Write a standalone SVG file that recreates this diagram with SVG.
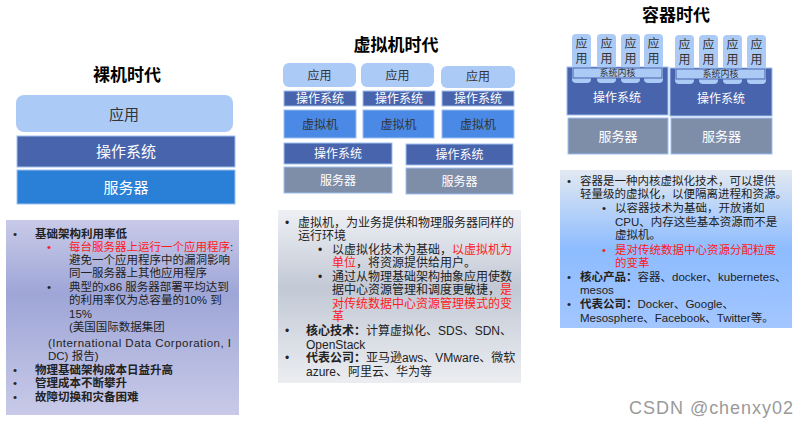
<svg xmlns="http://www.w3.org/2000/svg" width="798" height="428" viewBox="0 0 798 428">
<defs>
<linearGradient id="gL" x1="0" y1="0" x2="0" y2="1">
<stop offset="0" stop-color="#c9cae8"/><stop offset="0.38" stop-color="#9ea6d7"/><stop offset="1" stop-color="#c9cae8"/>
</linearGradient>
<linearGradient id="gM" x1="0" y1="0" x2="0" y2="1">
<stop offset="0" stop-color="#eef0f4"/><stop offset="0.45" stop-color="#c2c9d5"/><stop offset="1" stop-color="#ebedf1"/>
</linearGradient>
<linearGradient id="gR" x1="0" y1="0" x2="0" y2="1">
<stop offset="0" stop-color="#e3e9f1"/><stop offset="0.5" stop-color="#8dbcff"/><stop offset="1" stop-color="#a3c6ff"/>
</linearGradient>
</defs>
<style>
text{font-family:"Liberation Sans","Noto Sans CJK SC",sans-serif;}
.t{font-size:17px;font-weight:bold;fill:#000;text-anchor:middle;}
.app{fill:#abcaf6;}
.os{fill:#4864ac;stroke:#9dc0f0;stroke-width:1;}
.vm{fill:#4a8ae6;stroke:#9dc0f0;stroke-width:1;}
.srv{fill:#7f8ea8;stroke:#9dc0f0;stroke-width:1;}
.bm{fill:#2a7fd6;stroke:#9dc0f0;stroke-width:1;}
.lw{fill:#fff;text-anchor:middle;dominant-baseline:central;}
.ld{fill:#333;text-anchor:middle;dominant-baseline:central;}
.bl{font-size:11.5px;fill:#222;}
.bm2{font-size:12px;fill:#222;}
.r{fill:#ff1a1a;}
.b{font-weight:bold;}
.wm{font-family:"Liberation Sans",Arial,sans-serif;font-size:18px;fill:#9a9a9a;}
</style>

<g id="bare">
<text class="t" x="127" y="81">裸机时代</text>
<g id="bare-app"><rect class="app" x="16" y="95" width="217" height="37" rx="8"/><text class="ld" x="124" y="114" font-size="15">应用</text></g>
<g id="bare-os"><rect class="os" x="17" y="136" width="218" height="31"/><text class="lw" x="126" y="151.5" font-size="15">操作系统</text></g>
<g id="bare-srv"><rect class="bm" x="17" y="170" width="218" height="34"/><text class="lw" x="126" y="187" font-size="15">服务器</text></g>
</g>

<g id="bare-notes">
<rect x="6" y="220" width="233" height="195" fill="url(#gL)"/>
<g class="bl">
<text x="13" y="238">•</text><text x="35" y="238" class="b">基础架构利用率低</text>
<text x="47" y="251" class="r">•</text><text x="69" y="251"><tspan class="r">每台服务器上运行一个应用程序</tspan>:</text>
<text x="69" y="264">避免一个应用程序中的漏洞影响</text>
<text x="69" y="277">同一服务器上其他应用程序</text>
<text x="47" y="291">•</text><text x="69" y="291">典型的x86 服务器部署平均达到</text>
<text x="69" y="304">的利用率仅为总容量的10% 到</text>
<text x="69" y="318">15%</text>
<text x="69" y="331"> (美国国际数据集团</text>
<text x="48" y="347" textLength="183" lengthAdjust="spacing">(International Data Corporation, I</text>
<text x="48" y="360">DC) 报告)</text>
<text x="13" y="374">•</text><text x="35" y="374" class="b">物理基础架构成本日益升高</text>
<text x="13" y="387">•</text><text x="35" y="387" class="b">管理成本不断攀升</text>
<text x="13" y="401">•</text><text x="35" y="401" class="b">故障切换和灾备困难</text>
</g>
</g>

<g id="vm">
<text class="t" x="396" y="51">虚拟机时代</text>
<g id="vm-app1"><rect class="app" x="283" y="63" width="73" height="24" rx="6"/><text class="ld" x="319.5" y="75.5" font-size="12">应用</text></g>
<g id="vm-app2"><rect class="app" x="361" y="63" width="73" height="24" rx="6"/><text class="ld" x="397.5" y="75.5" font-size="12">应用</text></g>
<g id="vm-app3"><rect class="app" x="441" y="66" width="74" height="22" rx="6"/><text class="ld" x="478" y="77" font-size="12">应用</text></g>
<g id="vm-gos1"><rect class="os" x="284" y="91" width="72" height="15"/><text class="lw" x="320" y="99" font-size="12">操作系统</text></g>
<g id="vm-gos2"><rect class="os" x="363" y="91" width="72" height="15"/><text class="lw" x="399" y="99" font-size="12">操作系统</text></g>
<g id="vm-gos3"><rect class="os" x="442" y="91" width="72" height="15"/><text class="lw" x="478" y="99" font-size="12">操作系统</text></g>
<g id="vm-vm1"><rect class="vm" x="284" y="110" width="72" height="28"/><text class="ld" x="320" y="124.5" font-size="12">虚拟机</text></g>
<g id="vm-vm2"><rect class="vm" x="363" y="110" width="71" height="28"/><text class="ld" x="398.5" y="124.5" font-size="12">虚拟机</text></g>
<g id="vm-vm3"><rect class="vm" x="442" y="110" width="72" height="28"/><text class="ld" x="478" y="124.5" font-size="12">虚拟机</text></g>
<g id="vm-os1"><rect class="os" x="284" y="143" width="108" height="21"/><text class="lw" x="338" y="154" font-size="12">操作系统</text></g>
<g id="vm-os2"><rect class="os" x="406" y="144" width="107" height="21"/><text class="lw" x="459.5" y="155" font-size="12">操作系统</text></g>
<g id="vm-srv1"><rect class="srv" x="284" y="167" width="108" height="26"/><text class="lw" x="338" y="180.5" font-size="12">服务器</text></g>
<g id="vm-srv2"><rect class="srv" x="406" y="168" width="107" height="26"/><text class="lw" x="459.5" y="181.5" font-size="12">服务器</text></g>
</g>

<g id="vm-notes">
<rect x="278" y="210" width="243" height="173" fill="url(#gM)"/>
<g class="bm2">
<text x="285" y="227">•</text><text x="298" y="227">虚拟机，为业务提供和物理服务器同样的</text>
<text x="298" y="240">运行环境</text>
<text x="318" y="254">•</text><text x="332" y="254">以虚拟化技术为基础，<tspan class="r">以虚拟机为</tspan></text>
<text x="332" y="267"><tspan class="r">单位</tspan>，将资源提供给用户。</text>
<text x="318" y="281">•</text><text x="332" y="281">通过从物理基础架构抽象应用使数</text>
<text x="332" y="294">据中心资源管理和调度更敏捷，<tspan class="r">是</tspan></text>
<text x="332" y="308" class="r">对传统数据中心资源管理模式的变</text>
<text x="332" y="321" class="r">革</text>
<text x="285" y="335">•</text><text x="306" y="335"><tspan class="b">核心技术：</tspan>计算虚拟化、SDS、SDN、</text>
<text x="306" y="349">OpenStack</text>
<text x="285" y="362">•</text><text x="306" y="362"><tspan class="b">代表公司：</tspan>亚马逊aws、VMware、微软</text>
<text x="306" y="376">azure、阿里云、华为等</text>
</g>
</g>

<g id="ctr">
<text class="t" x="676" y="21">容器时代</text>
<g id="ctr-os1"><rect class="os" x="567" y="67" width="101" height="48"/><text class="lw" x="617" y="98" font-size="12">操作系统</text></g>
<g id="ctr-os2"><rect class="os" x="670" y="68" width="102" height="48"/><text class="lw" x="721" y="99" font-size="12">操作系统</text></g>
<g id="ctr-apps1" font-size="12">
<rect class="app" x="572" y="34" width="19" height="49" rx="4"/><text class="ld" x="581.5" y="44">应</text><text class="ld" x="581.5" y="59">用</text>
<rect class="app" x="597" y="34" width="19" height="49" rx="4"/><text class="ld" x="606.5" y="44">应</text><text class="ld" x="606.5" y="59">用</text>
<rect class="app" x="621" y="34" width="19" height="49" rx="4"/><text class="ld" x="630.5" y="44">应</text><text class="ld" x="630.5" y="59">用</text>
<rect class="app" x="644" y="34" width="19" height="49" rx="4"/><text class="ld" x="653.5" y="44">应</text><text class="ld" x="653.5" y="59">用</text>
</g>
<g id="ctr-apps2" font-size="12">
<rect class="app" x="675" y="35" width="19" height="49" rx="4"/><text class="ld" x="684.5" y="45">应</text><text class="ld" x="684.5" y="60">用</text>
<rect class="app" x="699" y="35" width="19" height="49" rx="4"/><text class="ld" x="708.5" y="45">应</text><text class="ld" x="708.5" y="60">用</text>
<rect class="app" x="723" y="35" width="19" height="49" rx="4"/><text class="ld" x="732.5" y="45">应</text><text class="ld" x="732.5" y="60">用</text>
<rect class="app" x="747" y="35" width="19" height="49" rx="4"/><text class="ld" x="756.5" y="45">应</text><text class="ld" x="756.5" y="60">用</text>
</g>
<g id="ctr-k1"><rect x="573" y="68" width="89" height="10" fill="#abcaf6" stroke="#4864ac" stroke-width="1"/><text class="ld" x="617.5" y="73" font-size="9">系统内核</text></g>
<g id="ctr-k2"><rect x="676" y="69" width="89" height="10" fill="#abcaf6" stroke="#4864ac" stroke-width="1"/><text class="ld" x="720.5" y="74" font-size="9">系统内核</text></g>
<g id="ctr-srv1"><rect class="srv" x="568" y="118" width="100" height="36"/><text class="lw" x="618" y="136" font-size="13">服务器</text></g>
<g id="ctr-srv2"><rect class="srv" x="671" y="118" width="101" height="36"/><text class="lw" x="721.5" y="136" font-size="13">服务器</text></g>
</g>

<g id="ctr-notes">
<rect x="560" y="170" width="232" height="158" fill="url(#gR)"/>
<g class="bl">
<text x="567" y="185">•</text><text x="580" y="185">容器是一种内核虚拟化技术，可以提供</text>
<text x="580" y="198">轻量级的虚拟化，以便隔离进程和资源。</text>
<text x="602" y="212">•</text><text x="615" y="212">以容器技术为基础，开放诸如</text>
<text x="615" y="226">CPU、内存这些基本资源而不是</text>
<text x="615" y="239">虚拟机。</text>
<text x="602" y="254" class="r">•</text><text x="615" y="254" class="r">是对传统数据中心资源分配粒度</text>
<text x="615" y="267" class="r">的变革</text>
<text x="567" y="281">•</text><text x="580" y="281"><tspan class="b">核心产品：</tspan>容器、docker、kubernetes、</text>
<text x="580" y="294">mesos</text>
<text x="567" y="308">•</text><text x="580" y="308"><tspan class="b">代表公司：</tspan>Docker、Google、</text>
<text x="580" y="322">Mesosphere、Facebook、Twitter等。</text>
</g>
</g>

<text class="wm" x="629" y="414" textLength="164" lengthAdjust="spacing">CSDN @chenxy02</text>
</svg>
